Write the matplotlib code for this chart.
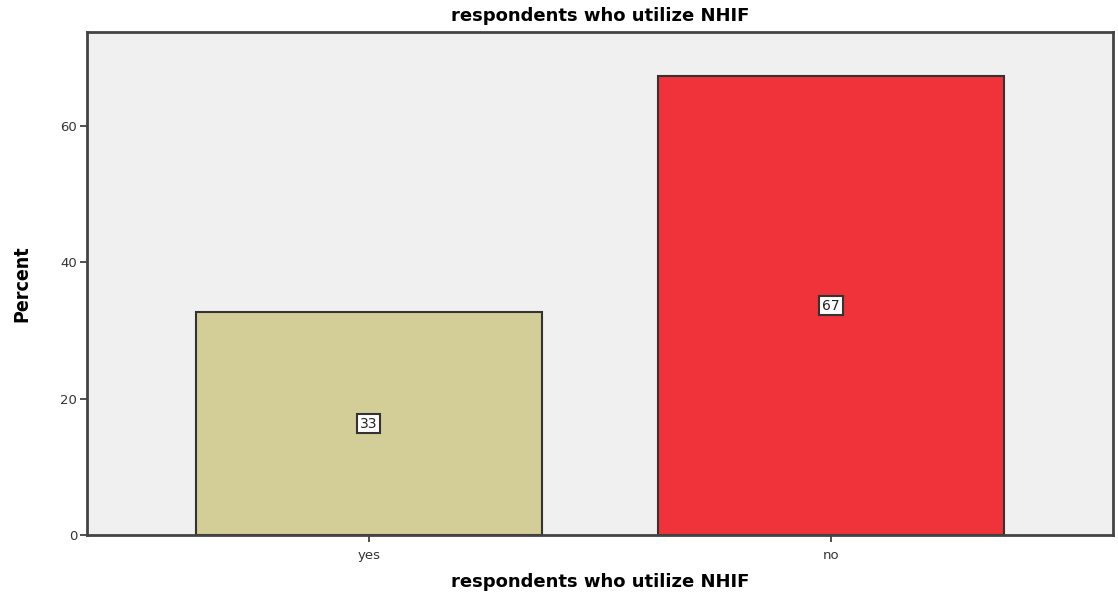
import matplotlib
matplotlib.use("Agg")
import matplotlib.pyplot as plt

categories = ['yes', 'no']
percent = [32.7, 67.3]
labels = ['33', '67']
bar_colors = ['#D3CE97', '#F0323A']

fig = plt.figure(figsize=(11.18, 5.94), dpi=100)
ax = fig.add_axes([87 / 1118, 59 / 594, 1026 / 1118, 503 / 594])
ax.set_facecolor('#F0F0F0')

x = list(range(len(categories)))
bars = ax.bar(x, percent, width=0.75, color=bar_colors, edgecolor='#333333', linewidth=1.5)

# etiquetas en el centro de cada barra
for bar, lab in zip(bars, labels):
    ax.text(bar.get_x() + bar.get_width() / 2, bar.get_height() / 2, lab,
            ha='center', va='center', fontsize=10, color='#222222',
            bbox=dict(boxstyle='square,pad=0.2', facecolor='white', edgecolor='#333333', linewidth=1.5))

ax.set_xlim(-0.61, 1.61)
ax.set_ylim(0, 73.8)
ax.set_yticks([0, 20, 40, 60])
ax.set_xticks(x)
ax.set_xticklabels(categories)
ax.tick_params(axis='both', direction='out', length=5, width=1.2, color='#333333',
               labelsize=9.5, labelcolor='#333333')
ax.tick_params(axis='x', pad=5)
ax.tick_params(axis='y', pad=2)
for s in ax.spines.values():
    s.set_color('#444444')
    s.set_linewidth(2)

ax.set_title('respondents who utilize NHIF', fontsize=13, fontweight='bold', pad=8)
ax.set_xlabel('respondents who utilize NHIF', fontsize=13, fontweight='bold', labelpad=8)
ax.set_ylabel('Percent', fontsize=14, fontweight='bold', fontstretch='condensed',
              family=['DejaVu Sans Condensed', 'DejaVu Sans'], labelpad=21)

fig.savefig('out.png', dpi=100)
plt.close(fig)
